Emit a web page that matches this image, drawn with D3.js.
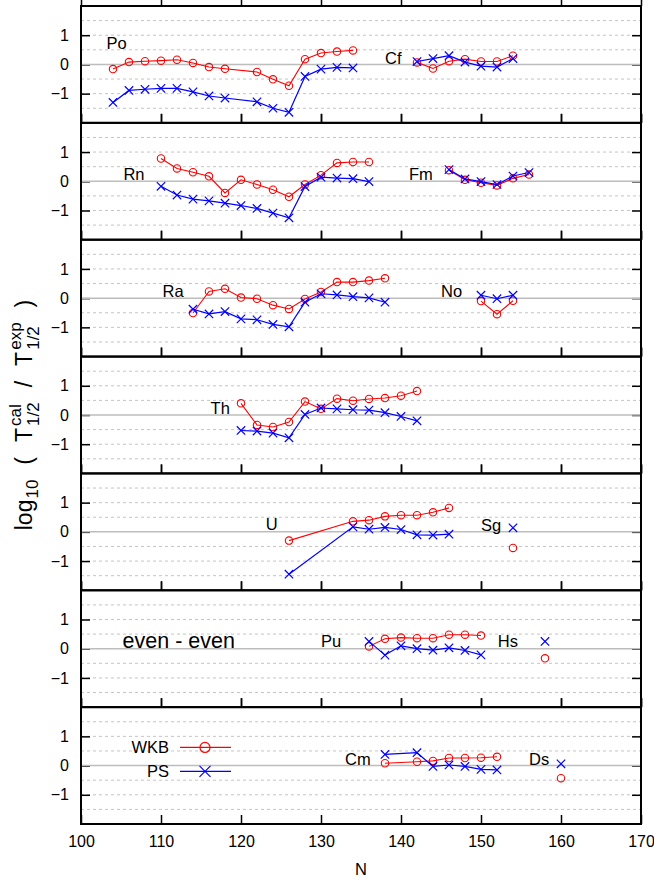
<!DOCTYPE html>
<html><head><meta charset="utf-8">
<script src="https://cdn.jsdelivr.net/npm/d3@7"></script>
<style>
body{margin:0;background:#fff;}
svg{display:block;font-family:"Liberation Sans",Arial,Helvetica,sans-serif;}
</style></head><body>
<svg id="chart" width="654" height="882"></svg>
<script>
// Neutron number N and log10(T_cal / T_exp) for the WKB and PS calculations
const poN   = [104,106,108,110,112,114,116,118,122,124,126,128,130,132,134];
const poWKB = [-0.16,0.08,0.11,0.13,0.16,0.05,-0.09,-0.15,-0.26,-0.51,-0.73,0.18,0.39,0.44,0.48];
const poPS  = [-1.30,-0.89,-0.85,-0.82,-0.82,-0.94,-1.08,-1.15,-1.28,-1.50,-1.64,-0.41,-0.16,-0.10,-0.12];

const cfN   = [142,144,146,148,150,152,154];
const cfWKB = [0.07,-0.14,0.11,0.18,0.10,0.10,0.30];
const cfPS  = [0.10,0.20,0.30,0.08,-0.06,-0.09,0.20];

const rnN   = [110,112,114,116,118,120,122,124,126,128,130,132,134,136];
const rnWKB = [0.78,0.44,0.31,0.17,-0.40,0.05,-0.11,-0.29,-0.53,-0.11,0.21,0.63,0.66,0.66];
const rnPS  = [-0.17,-0.47,-0.61,-0.67,-0.75,-0.83,-0.93,-1.09,-1.25,-0.18,0.14,0.11,0.09,-0.01];

const fmN   = [146,148,150,152,154,156];
const fmWKB = [0.38,0.05,-0.05,-0.14,0.10,0.23];
const fmPS  = [0.40,0.08,-0.01,-0.11,0.18,0.30];

const raN   = [114,116,118,120,122,124,126,128,130,132,134,136,138];
const raWKB = [-0.51,0.23,0.32,0.02,-0.02,-0.24,-0.37,-0.03,0.21,0.55,0.55,0.60,0.68];
const raPS  = [-0.38,-0.54,-0.46,-0.71,-0.74,-0.90,-0.98,-0.14,0.15,0.11,0.05,0.01,-0.14];

const noN   = [150,152,154];
const noWKB = [-0.10,-0.55,-0.09];
const noPS  = [0.10,-0.02,0.10];

const thN   = [120,122,124,126,128,130,132,134,136,138,140,142];
const thWKB = [0.40,-0.34,-0.41,-0.24,0.46,0.21,0.56,0.49,0.55,0.58,0.66,0.82];
const thPS  = [-0.53,-0.55,-0.62,-0.78,0.02,0.24,0.21,0.18,0.17,0.08,-0.05,-0.20];

const uN    = [126,134,136,138,140,142,144,146];
const uWKB  = [-0.30,0.36,0.40,0.53,0.57,0.57,0.67,0.82];
const uPS   = [-1.45,0.17,0.09,0.15,0.08,-0.10,-0.11,-0.08];

const sgN   = [154];
const sgWKB = [-0.55];
const sgPS  = [0.14];

const puN   = [136,138,140,142,144,146,148,150];
const puWKB = [0.08,0.34,0.38,0.36,0.36,0.48,0.48,0.45];
const puPS  = [0.25,-0.22,0.10,0.00,-0.05,0.03,-0.06,-0.21];

const hsN   = [158];
const hsWKB = [-0.33];
const hsPS  = [0.25];

const cmN   = [138,142,144,146,148,150,152];
const cmWKB = [0.08,0.13,0.16,0.26,0.26,0.27,0.30];
const cmPS  = [0.38,0.44,-0.03,0.02,-0.03,-0.13,-0.15];

const dsN   = [160];
const dsWKB = [-0.43];
const dsPS  = [0.06];

const xTicks = [100,110,120,130,140,150,160,170];
const yTicks = [-1,0,1];
const yGrid  = [-1.5,-1,-0.5,0.5,1,1.5];

// one entry per stacked panel; label placed at (N, value) in panel units
const panels = [
  [{name:"Po", N:poN, wkb:poWKB, ps:poPS, at:[103.2,0.52]},
   {name:"Cf", N:cfN, wkb:cfWKB, ps:cfPS, at:[138.0,0.0]}],
  [{name:"Rn", N:rnN, wkb:rnWKB, ps:rnPS, at:[105.3,0.06]},
   {name:"Fm", N:fmN, wkb:fmWKB, ps:fmPS, at:[141.0,0.06]}],
  [{name:"Ra", N:raN, wkb:raWKB, ps:raPS, at:[110.2,0.03]},
   {name:"No", N:noN, wkb:noWKB, ps:noPS, at:[145.0,0.03]}],
  [{name:"Th", N:thN, wkb:thWKB, ps:thPS, at:[116.2,0.05]}],
  [{name:"U",  N:uN,  wkb:uWKB,  ps:uPS,  at:[123.1,0.05]},
   {name:"Sg", N:sgN, wkb:sgWKB, ps:sgPS, at:[150.0,0.02]}],
  [{name:"Pu", N:puN, wkb:puWKB, ps:puPS, at:[130.0,0.05]},
   {name:"Hs", N:hsN, wkb:hsWKB, ps:hsPS, at:[152.1,0.05]}],
  [{name:"Cm", N:cmN, wkb:cmWKB, ps:cmPS, at:[133.0,0.03]},
   {name:"Ds", N:dsN, wkb:dsWKB, ps:dsPS, at:[156.0,0.03]}]
];

const svg = d3.select("#chart");
const plotL = 81, plotR = 641, plotT = 6, plotB = 824;
const ph = (plotB - plotT) / panels.length;
const RED = "#ff0000", BLUE = "#0000ff";
const x = d3.scaleLinear().domain([100,170]).range([plotL,plotR]);

const crossPath = s => `M${-s},${-s}L${s},${s}M${-s},${s}L${s},${-s}`;

panels.forEach((series, i) => {
  const y0 = plotT + i * ph, y1 = y0 + ph;
  const y = d3.scaleLinear().domain([-2,2]).range([y1,y0]);
  const g = svg.append("g");

  // dashed grid and solid zero line
  g.selectAll(".grid").data(yGrid).join("line")
    .attr("x1",plotL).attr("x2",plotR)
    .attr("y1",d=>y(d)).attr("y2",d=>y(d))
    .attr("stroke","#c4c4c4").attr("stroke-width",1).attr("stroke-dasharray","3,3");

  // inward ticks on all four sides
  const tk = (axis, tr) => {
    const a = g.append("g").attr("transform",tr).call(axis);
    a.select(".domain").remove();
    a.selectAll(".tick line").attr("stroke","#000").attr("stroke-width",1.5);
    return a;
  };
  tk(d3.axisBottom(x).tickValues(xTicks).tickSizeInner(-9).tickSizeOuter(0).tickFormat(""), `translate(0,${y0})`);
  const xb = tk(d3.axisBottom(x).tickValues(xTicks).tickSizeInner(-9).tickSizeOuter(0).tickPadding(12)
      .tickFormat(i === panels.length-1 ? d3.format("d") : ""), `translate(0,${y1})`);
  const yl = tk(d3.axisLeft(y).tickValues(yTicks).tickSizeInner(-9).tickSizeOuter(0).tickPadding(12)
      .tickFormat(d3.format("d")), `translate(${plotL},0)`);
  tk(d3.axisRight(y).tickValues(yTicks).tickSizeInner(-9).tickSizeOuter(0).tickFormat(""), `translate(${plotR},0)`);
  [xb, yl].forEach(a => a.selectAll("text").attr("font-size",16).attr("fill","#000")
      .attr("font-family",'"Liberation Sans",Arial,sans-serif'));

  g.append("line").attr("x1",plotL).attr("x2",plotR).attr("y1",y(0)).attr("y2",y(0))
    .attr("stroke","#bdbdbd").attr("stroke-width",1.5);

  const line = d3.line().x(d=>x(d[0])).y(d=>y(d[1]));
  series.forEach(s => {
    const w = s.N.map((n,k)=>[n,s.wkb[k]]);
    const p = s.N.map((n,k)=>[n,s.ps[k]]);
    if (w.length > 1) g.append("path").attr("d",line(w)).attr("fill","none").attr("stroke",RED).attr("stroke-width",1.1);
    g.selectAll(null).data(w).join("circle")
      .attr("cx",d=>x(d[0])).attr("cy",d=>y(d[1])).attr("r",3.7)
      .attr("fill","none").attr("stroke",RED).attr("stroke-width",1.1);
    if (p.length > 1) g.append("path").attr("d",line(p)).attr("fill","none").attr("stroke",BLUE).attr("stroke-width",1.2);
    g.selectAll(null).data(p).join("path")
      .attr("transform",d=>`translate(${x(d[0])},${y(d[1])})`).attr("d",crossPath(4.2))
      .attr("fill","none").attr("stroke",BLUE).attr("stroke-width",1.2);
    g.append("text").attr("x",x(s.at[0])).attr("y",y(s.at[1]))
      .attr("font-size",16.5).attr("fill","#000").text(s.name);
  });

  if (i === 5) {
    g.append("text").attr("x",x(105.2)).attr("y",y(0.02)).attr("font-size",21.5).attr("fill","#000").text("even - even");
  }
  if (i === 6) {
    // legend
    const items = [{t:"WKB", v:0.62, c:RED, m:"o"}, {t:"PS", v:-0.2, c:BLUE, m:"x"}];
    items.forEach(it => {
      const ly = y(it.v);
      g.append("text").attr("x",169).attr("y",ly+6).attr("text-anchor","end")
        .attr("font-size",16.5).attr("fill","#000").text(it.t);
      g.append("line").attr("x1",180).attr("x2",231).attr("y1",ly).attr("y2",ly)
        .attr("stroke",it.c).attr("stroke-width",1.2);
      if (it.m === "o") g.append("circle").attr("cx",205).attr("cy",ly).attr("r",5)
        .attr("fill","none").attr("stroke",it.c).attr("stroke-width",1.2);
      else g.append("path").attr("transform",`translate(205,${ly})`).attr("d",crossPath(5.5))
        .attr("fill","none").attr("stroke",it.c).attr("stroke-width",1.2);
    });
  }

  g.append("rect").attr("x",plotL).attr("y",y0).attr("width",plotR-plotL).attr("height",ph)
    .attr("fill","none").attr("stroke","#000").attr("stroke-width",2);
});

// x-axis title
svg.append("text").attr("x",(plotL+plotR)/2).attr("y",875).attr("text-anchor","middle")
  .attr("font-size",16.5).attr("fill","#000").text("N");

// y-axis title: log10 ( T^cal_1/2 / T^exp_1/2 )
const ylab = svg.append("g").attr("transform",`translate(32,${(plotT+plotB)/2}) rotate(-90)`);
const inner = ylab.append("g");
let cur = 0;
const big = 23, small = 17, gap = 15;
function put(txt, size, dy, xx) {
  const t = inner.append("text").attr("x",xx).attr("y",dy).attr("font-size",size).attr("fill","#000").text(txt);
  return t.node().getComputedTextLength();
}
cur += put("log", big, 0, cur) + 1;
cur += put("10", small, 6, cur) + gap;
cur += put("(", big, 0, cur) + gap;
cur += put("T", big, 0, cur) + 2;
cur += Math.max(put("cal", small, -11, cur), put("1/2", small, 7, cur)) + gap;
cur += put("/", big, 0, cur) + gap;
cur += put("T", big, 0, cur) + 2;
cur += Math.max(put("exp", small, -11, cur), put("1/2", small, 7, cur)) + gap;
cur += put(")", big, 0, cur);
inner.attr("transform",`translate(${-cur/2},0)`);
</script>
</body></html>
